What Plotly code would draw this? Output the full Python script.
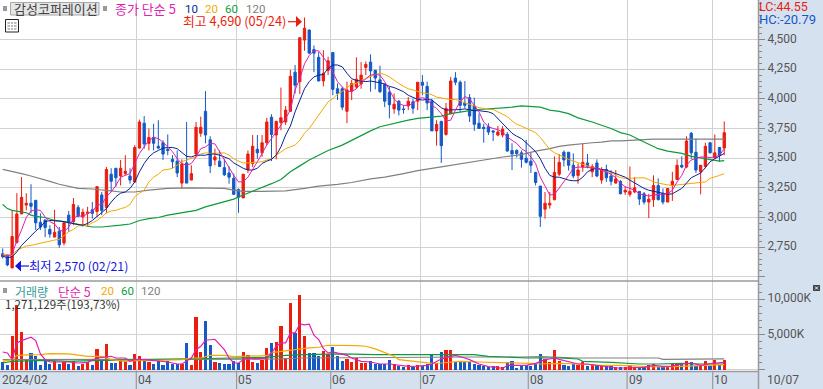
import plotly.graph_objects as go

up_flags = ("bbrrrrbbbb" "brbrbrbrrb" "rbrbbrrbrr" "brbbbbbbrb" "rrrbbrbbbb" "brrrbrrbrr"
            "rrbrrbbbrr" "bbbrrrrrbb" "bbbrbbrbrb" "bbrbrrbbbb" "bbbbbrrbbb" "bbbbbrrrrb"
            "bbrrbrbrbb" "rbrrrbbrrb" "brrrbrbbrr" "brbr")
high = [2740,2685,3055,3205,3340,3205,3280,3145,3035,2980,2935,3065,2920,2965,3055,3165,3105,3075,3090,3130,
        3260,3215,3425,3415,3415,3485,3525,3415,3610,3825,3855,3750,3790,3820,3650,3700,3525,3565,3490,3805,
        3440,3805,3850,4065,3685,3580,3565,3490,3430,3370,3245,3365,3565,3695,3695,3695,3840,3870,3815,4095,
        3940,4245,4285,4515,4685,4585,4450,4395,4410,4355,4395,4130,4100,4145,4160,4350,4310,4315,4375,4245,
        4280,4130,4100,4045,3990,3945,4015,4000,4140,4200,4145,4000,3820,3815,3965,4185,4225,4155,4150,4040,
        4010,3875,3790,3795,3735,3770,3770,3720,3625,3575,3565,3655,3545,3385,3265,3215,3215,3515,3535,3565,
        3550,3540,3455,3625,3535,3450,3490,3425,3445,3400,3400,3315,3260,3430,3340,3220,3215,3200,3355,3330,
        3245,3245,3385,3490,3515,3685,3720,3665,3440,3630,3635,3700,3595,3810]
body_hi = [2695,2685,2840,3030,3170,3120,3120,3145,2960,2980,2900,2875,2885,2955,3020,3110,3085,3045,3045,3065,
           3260,3190,3405,3365,3415,3415,3390,3350,3590,3805,3795,3675,3675,3600,3630,3575,3490,3475,3450,3460,
           3370,3760,3760,3895,3655,3510,3475,3420,3375,3330,3235,3365,3535,3600,3575,3630,3805,3845,3810,3840,
           3905,4190,4225,4515,4595,4580,4415,4350,4215,4320,4390,4085,4085,4075,4130,4165,4200,4290,4310,4240,
           4160,4120,4055,3955,3980,3915,3980,3975,4140,4140,4105,3980,3785,3810,3920,4150,4175,4140,3965,4010,
           3940,3795,3760,3765,3730,3720,3745,3700,3565,3565,3545,3500,3475,3380,3265,3120,3120,3380,3465,3550,
           3550,3440,3400,3465,3460,3430,3460,3400,3405,3350,3325,3305,3230,3220,3250,3220,3200,3155,3270,3270,
           3205,3245,3305,3440,3440,3645,3710,3550,3440,3600,3630,3545,3590,3715]
body_lo = [2670,2600,2575,2790,3030,3105,3095,2955,2920,2915,2860,2835,2770,2785,2955,2965,3010,3005,3035,3035,
           3050,3060,3085,3305,3335,3350,3370,3315,3300,3585,3620,3625,3625,3585,3535,3565,3470,3375,3290,3290,
           3315,3535,3710,3695,3435,3485,3430,3360,3340,3195,3170,3165,3405,3455,3545,3545,3630,3700,3695,3800,
           3805,3895,4115,4145,4495,4385,4385,4150,4150,4240,4080,4045,3930,3895,4065,4100,4125,4265,4235,4175,
           4060,3980,3950,3915,3905,3910,3940,3920,3980,4115,3965,3730,3730,3605,3700,3875,4140,3945,3945,3855,
           3785,3750,3750,3720,3720,3695,3695,3560,3535,3540,3490,3465,3440,3295,3010,3070,3105,3150,3365,3485,
           3440,3350,3355,3425,3430,3385,3350,3315,3335,3305,3290,3200,3215,3195,3215,3155,3130,3130,3150,3150,
           3130,3130,3270,3320,3425,3425,3545,3400,3385,3430,3545,3505,3525,3585]
low = [2655,2590,2575,2780,3030,3060,3035,2895,2895,2835,2830,2835,2745,2765,2880,2935,3005,2925,2925,2990,
       3005,3020,3035,3215,3260,3270,3355,3285,3290,3580,3580,3565,3565,3575,3485,3525,3415,3340,3245,3290,
       3315,3510,3680,3625,3375,3440,3425,3350,3285,3195,3040,3165,3375,3425,3495,3510,3610,3475,3490,3735,
       3780,3890,4045,4040,4405,4380,4225,4150,4105,4200,4030,3990,3905,3795,3990,4085,4085,4200,4060,4080,
       4050,3930,3835,3875,3860,3875,3905,3875,3905,4030,3905,3730,3605,3460,3690,3870,4115,3890,3920,3805,
       3730,3750,3630,3695,3645,3685,3675,3555,3400,3505,3420,3455,3375,3270,2920,2990,3075,3145,3350,3430,
       3395,3330,3285,3385,3415,3340,3340,3285,3300,3270,3285,3195,3190,3175,3205,3105,3110,2995,3090,3145,
       3110,3130,3140,3315,3415,3415,3495,3375,3195,3415,3540,3495,3470,3525]
volume_k = [1090,660,4790,9190,5360,1420,2370,1940,660,1520,810,1180,850,1090,810,1180,520,810,1090,660,
            2940,1280,3650,950,950,1420,1180,660,2230,1940,1230,1090,810,1280,660,1230,850,810,850,3790,
            660,7490,2510,6920,3510,1090,950,810,810,1280,950,2510,2040,1090,950,1420,3080,3790,3930,6210,
            1660,9480,5210,10620,4790,2370,2370,1940,2650,2230,3220,1940,1230,1520,1090,1660,950,950,1230,810,
            810,810,1370,810,520,380,620,380,620,520,810,2090,950,2510,2800,2800,1090,1090,1090,1090,
            810,660,520,380,470,470,330,1090,1180,240,520,660,520,810,2230,1520,1090,2800,1180,660,
            520,810,660,1090,520,810,660,660,470,470,330,330,330,710,330,330,520,660,850,430,
            430,430,810,900,950,1230,1090,520,520,1230,520,1370,660,1370]

ma5 = [2680,2675,2690,2805,2895,3000,3055,3065,3060,3005,2965,2945,2895,2880,2920,2990,3020,3005,3035,3045,
       3105,3110,3175,3215,3270,3340,3355,3370,3455,3540,3595,3650,3675,3665,3635,3595,3555,3495,3455,3440,
       3455,3510,3580,3595,3625,3620,3555,3485,3415,3355,3300,3300,3340,3400,3470,3540,3610,3665,3720,3770,
       3835,3905,4075,4170,4295,4365,4405,4405,4355,4295,4225,4145,4100,4065,4060,4085,4130,4170,4200,4205,
       4200,4145,4075,4000,3960,3945,3945,3960,4000,4010,4000,3945,3920,3875,3815,3820,3905,3975,4020,4000,
       3945,3890,3805,3765,3750,3740,3720,3680,3650,3625,3580,3555,3510,3455,3340,3260,3190,3195,3245,3300,
       3355,3415,3425,3425,3420,3415,3415,3400,3385,3365,3335,3290,3260,3245,3230,3200,3190,3180,3190,3195,
       3195,3200,3230,3300,3355,3440,3485,3495,3510,3510,3505,3510,3525,3580]
ma10 = [2675,2660,2670,2710,2765,2805,2850,2885,2920,2965,2975,2975,2970,2965,2955,2945,2940,2935,2950,2975,
        3010,3045,3075,3130,3175,3205,3215,3245,3300,3385,3455,3510,3545,3565,3585,3590,3590,3580,3545,3515,
        3510,3525,3525,3525,3535,3535,3525,3510,3495,3460,3435,3415,3400,3400,3415,3455,3475,3490,3525,3595,
        3695,3770,3890,3990,4085,4145,4185,4200,4205,4255,4285,4285,4270,4215,4170,4155,4150,4145,4150,4145,
        4135,4125,4105,4095,4080,4060,4030,4010,3995,3990,3995,3990,3960,3925,3905,3905,3905,3910,3915,3905,
        3900,3900,3895,3890,3875,3835,3790,3750,3710,3685,3665,3630,3590,3555,3495,3415,3355,3340,3340,3325,
        3315,3310,3310,3340,3385,3405,3415,3405,3400,3385,3370,3355,3340,3315,3290,3265,3245,3230,3220,3215,
        3200,3195,3200,3220,3245,3290,3335,3355,3375,3420,3470,3495,3520,3540]
ma20 = [2690,2685,2680,2725,2745,2760,2765,2775,2785,2795,2805,2810,2815,2850,2880,2900,2930,2930,2935,2955,
        2975,3005,3040,3055,3060,3075,3085,3110,3175,3205,3230,3300,3340,3365,3400,3405,3415,3440,3470,3485,
        3495,3510,3535,3545,3540,3540,3545,3545,3525,3495,3475,3460,3460,3465,3465,3470,3485,3495,3525,3555,
        3580,3595,3610,3650,3710,3750,3805,3860,3920,3975,4000,4040,4060,4095,4125,4130,4155,4170,4190,4205,
        4215,4205,4185,4155,4130,4105,4085,4075,4060,4050,4045,4035,4015,4005,4000,3995,3995,3985,3965,3955,
        3940,3925,3920,3910,3910,3890,3865,3850,3815,3785,3770,3750,3735,3715,3675,3625,3575,3545,3530,3510,
        3490,3475,3465,3450,3435,3425,3415,3400,3390,3380,3355,3335,3330,3330,3335,3335,3335,3320,3300,3290,
        3280,3275,3270,3275,3280,3285,3290,3295,3295,3300,3330,3340,3355,3370]
ma60_idx = [0,1,2,3,4,5,6,7,9,11,13,15,17,19,21,23,25,27,29,31,33,35,37,39,41,43,45,47,49,51,53,55,57,59,
            61,63,65,67,69,72,74,76,78,80,82,84,86,88,91,93,95,97,99,101,103,105,108,110,112,114,116,
            118,120,122,125,127,129,131,133,135,137,139,141,144,146,148,150,152,153]
ma60 = [3110,3075,3060,3055,3045,3040,3020,3010,3000,2975,2965,2950,2935,2920,2920,2925,2935,2945,2975,2990,
        3000,3020,3035,3045,3060,3090,3110,3130,3155,3190,3220,3250,3285,3320,3385,3435,3485,3525,3565,3610,
        3650,3695,3730,3765,3785,3800,3820,3835,3850,3855,3875,3890,3900,3910,3915,3925,3930,3940,3935,3930,
        3905,3895,3875,3840,3805,3780,3750,3715,3695,3655,3620,3580,3560,3540,3515,3500,3485,3475,3480]
ma120_idx = [0,2,4,6,8,10,12,14,16,19,21,23,25,28,31,35,40,44,47,49,51,55,59,60,64,67,71,74,78,81,85,88,92,
             96,99,103,106,110,113,116,118,120,122,125,127,129,131,133,135,138,142,146,153]
ma120 = [3405,3390,3370,3350,3330,3305,3280,3260,3245,3240,3235,3225,3215,3215,3230,3245,3250,3250,3245,3230,
         3220,3220,3220,3225,3245,3265,3280,3295,3325,3340,3370,3395,3420,3445,3470,3490,3510,3530,3560,3580,
         3600,3610,3620,3630,3635,3645,3645,3650,3655,3660,3660,3660,3660]

vma5_idx = [0,1,2,3,4,5,6,7,8,9,10,12,14,16,18,20,21,22,23,24,26,27,28,30,33,35,37,38,40,41,42,43,45,46,47,
            48,49,50,51,52,54,56,57,58,59,60,61,62,63,64,65,66,67,68,69,70,71,73,74,75,76,78,80,82,84,86,
            88,90,91,93,94,96,98,99,101,103,105,106,107,109,111,113,115,116,117,118,120,122,124,126,128,130,
            132,134,136,138,140,142,144,146,148,150,153]
vma5 = [2510,2370,1420,3790,4120,4410,4600,4120,2230,1420,1090,1090,1090,950,1040,1660,1750,1900,1900,1660,
        1660,1190,1420,1420,1280,1090,810,810,1660,2840,3320,4170,4310,3560,2840,1660,950,950,1420,1660,1520,
        1660,2370,3320,3790,3790,5210,5210,6490,6350,6450,4880,4270,2990,2370,2510,2320,2040,1660,1420,1190,
        1090,810,810,620,470,520,620,810,1520,1750,2040,1660,1420,810,430,330,140,620,620,620,900,1420,1520,
        1660,1470,1090,810,810,620,470,240,240,330,330,620,470,520,810,950,620,850,1040]
vma20_idx = [0,2,3,5,8,10,14,16,18,21,23,26,28,33,38,40,42,44,47,49,52,54,56,57,60,63,65,67,69,75,77,79,81,83,
             84,87,89,91,93,95,97,101,106,108,112,114,118,122,127,131,135,139,144,148,153]
vma20 = [1190,1420,1990,2090,2130,2280,2230,2040,1900,1900,1420,1190,1280,1330,1420,1660,1660,2040,2040,1850,
         1900,1940,1990,2420,2700,2990,3080,3180,3460,3410,3320,2940,2460,1900,1420,1190,1040,900,950,1090,
         1190,1090,1040,1040,900,810,900,810,620,620,470,380,470,620,710]
vma60_idx = [0,2,9,14,19,23,31,38,42,49,56,60,64,72,79,90,100,103,111,116,118,122,123,129,135,139,144,148,153]
vma60 = [950,1190,1330,1190,1280,1330,1420,1420,1520,1660,1750,2040,2130,2230,2130,2130,2130,1900,1660,1660,
         1660,1520,1190,1040,810,810,900,810,810]
vma120_idx = [0,14,28,39,50,59,64,78,90,99,110,114,122,139,140,153]
vma120 = [1420,1420,1420,1420,1420,1520,1660,1750,1750,1800,1800,1850,1660,1660,1470,1520]

price_ticks = [2500,2750,3000,3250,3500,3750,4000,4250,4500]
price_labels = ["","2,750","3,000","3,250","3,500","3,750","4,000","4,250","4,500"]
vol_ticks = [0,5000,10000]
vol_labels = ["","5,000K","10,000K"]
month_pos = [28.33,49.6,69.55,88.6,111.45,132.4,150.55]
month_labels = ["04","05","06","07","08","09","10"]

RED,BLUE = "#EC1C0E","#1459C6"
MAG,NAVY,ORG,GRN,GRY = "#E01EB0","#0C1F96","#F2A900","#0E9A3C","#808080"
BAND,GRID,AXIS = "#D6E1EF","#D2D2D2","#9A9A9A"
NUM = "Roboto"
KR = "Noto Sans CJK KR"
W,H,PW,PH,SPLIT = 823,389,758,371,281

idx = list(range(len(high)))
opens = [l if f=="r" else h for f,h,l in zip(up_flags,body_hi,body_lo)]
closes = [h if f=="r" else l for f,h,l in zip(up_flags,body_hi,body_lo)]
vcolors = [RED if f=="r" else BLUE for f in up_flags]

fig = go.Figure()
fig.add_trace(go.Candlestick(x=idx,open=opens,high=high,low=low,close=closes,xaxis="x",yaxis="y",
    increasing=dict(line=dict(color=RED,width=1),fillcolor=RED),
    decreasing=dict(line=dict(color=BLUE,width=1),fillcolor=BLUE),whiskerwidth=0,hoverinfo="skip"))
def ln(x,y,c,ax,w=1):
    fig.add_trace(go.Scatter(x=x,y=y,mode="lines",line=dict(color=c,width=w),xaxis=ax[0],yaxis=ax[1],hoverinfo="skip"))
ln(ma120_idx,ma120,GRY,("x","y"),1.2)
ln(ma60_idx,ma60,GRN,("x","y"),1.2)
ln(idx,ma20,ORG,("x","y"))
ln(idx,ma10,NAVY,("x","y"))
ln(idx,ma5,MAG,("x","y"))
fig.add_trace(go.Bar(x=idx,y=volume_k,marker=dict(color=vcolors,line=dict(width=0)),width=0.68,xaxis="x2",yaxis="y2",hoverinfo="skip"))
ln(vma120_idx,vma120,GRY,("x2","y2"),1.2)
ln(vma60_idx,vma60,GRN,("x2","y2"),1.2)
ln(vma20_idx,vma20,ORG,("x2","y2"),1.2)
ln(vma5_idx,vma5,MAG,("x2","y2"),1.2)

XR = [-0.5725,160.16]
xa = dict(range=XR,showticklabels=False,ticks="",tickvals=month_pos,showgrid=True,gridcolor=GRID,gridwidth=1,zeroline=False,showline=False,rangeslider=dict(visible=False),fixedrange=True)

px = lambda x:x/PW
py = lambda y:1-y/PH
shapes,anns = [],[]
def rect(x0,y0,x1,y1,fill,line=None,w=1):
    shapes.append(dict(type="rect",xref="paper",yref="paper",x0=px(x0),x1=px(x1),y0=py(y0),y1=py(y1),fillcolor=fill,line=dict(color=line or fill,width=w if line else 0),layer="above"))
def seg(x0,y0,x1,y1,c,w=1):
    shapes.append(dict(type="line",xref="paper",yref="paper",x0=px(x0),x1=px(x1),y0=py(y0),y1=py(y1),line=dict(color=c,width=w),layer="above"))
def tri(pts,c):
    d="M"+" L".join(f"{px(a)},{py(b)}" for a,b in pts)+" Z"
    shapes.append(dict(type="path",xref="paper",yref="paper",path=d,fillcolor=c,line=dict(color=c,width=0),layer="above"))
def txt(x,y,s,c,size=13,fam=KR):
    anns.append(dict(xref="paper",yref="paper",x=px(x),y=py(y),text=s,showarrow=False,xanchor="left",yanchor="middle",font=dict(color=c,size=size,family=fam),borderpad=0,borderwidth=0))

seg(0,SPLIT,PW,SPLIT,AXIS,1.5)
seg(0,PH+0.5,PW,PH+0.5,AXIS,1.5)
seg(PW+0.5,0,PW+0.5,H,AXIS,1.5)
for m,lab in zip(month_pos,month_labels):
    X=2.7+4.716*m
    seg(X,PH,X,H,AXIS,1.2)
    txt(X+1.5,380,lab,"#555",12,NUM)
txt(2,380,"2024/02","#555",12,NUM)
txt(767,380,"10/07","#555",12,NUM)

rect(10.5,2.5,99,15,"#E6E6E6","#A8A8A8")
rect(3,6,7,11,"#999999")
rect(103,6,107,11,"#999999")
txt(14,8.5,"감성코퍼레이션","#444",13)
txt(115,9,"종가 단순 5",MAG,13)
txt(185,9,"10",NAVY,11.5,NUM)
txt(205,9,"20",ORG,11.5,NUM)
txt(225,9,"60",GRN,11.5,NUM)
txt(246,9,"120",GRY,11.5,NUM)
rect(5.5,19.5,18.5,32,"#FFFFFF","#222222")
rect(7.5,22,16.5,30,"#BDBDBD")
for gx in (10.5,13.5):
    seg(gx,22,gx,30,"#FFFFFF",1)
for gy in (24.5,27.5):
    seg(7.5,gy,16.5,gy,"#FFFFFF",1)
txt(183,21,"최고 4,690 (05/24)",RED,12.8)
seg(288,21.7,297,21.7,RED,1.2)
tri([(296,16),(302,21.7),(296,27)],RED)
txt(28.5,265.5,"최저 2,570 (02/21)","#1515E0",12.3)
seg(20,266,29,266,"#1515E0",1.2)
tri([(15,266),(21,260.5),(21,271.5)],"#1515E0")
txt(759,7,"LC:44.55",RED,12.5,NUM)
txt(759,19,"HC:-20.79",BLUE,13,NUM)
rect(3,288,7,293,"#999999")
txt(15,291,"거래량","#3A9A9A",12)
txt(58,291,"단순 5",MAG,12.5)
txt(101,291,"20",ORG,11.5,NUM)
txt(121,291,"60",GRN,11.5,NUM)
txt(141,291,"120",GRY,11.5,NUM)
txt(5,304,"1,271,129주(193,73%)","#333",11.5)
rect(813,285,820,291,"#444444")
seg(815,286.5,818,289.5,"#FFFFFF",1)
seg(815,289.5,818,286.5,"#FFFFFF",1)

PR0 = 4500+39.5/0.11867
PR1 = 4500-(SPLIT-39.5)/0.11867
VR1 = (369.7-SPLIT)/35.3*5000
VR0 = (369.7-PH)/35.3*5000
tickf = dict(family=NUM,size=12,color="#555")
fig.update_layout(
    width=W,height=H,margin=dict(l=0,r=W-PW,t=0,b=H-PH,pad=0),autosize=False,showlegend=False,
    paper_bgcolor=BAND,plot_bgcolor="#FFFFFF",bargap=0,barmode="overlay",
    xaxis=dict(xa,domain=[0,1],anchor="y"),
    xaxis2=dict(xa,domain=[0,1],anchor="y2",matches="x"),
    yaxis=dict(domain=[(PH-SPLIT)/PH,1],range=[PR1,PR0],side="right",anchor="x",tickvals=price_ticks,ticktext=price_labels,
               tickfont=tickf,ticks="outside",ticklen=6,tickcolor="#888",showgrid=True,gridcolor=GRID,zeroline=False,fixedrange=True,ticklabelshift=-1,
               minor=dict(dtick=50,ticklen=3,ticks="outside",tickcolor="#888",showgrid=False,tick0=0)),
    yaxis2=dict(domain=[0,(PH-SPLIT)/PH],range=[VR0,VR1],side="right",anchor="x2",tickvals=vol_ticks,ticktext=vol_labels,
               tickfont=tickf,ticks="outside",ticklen=6,tickcolor="#888",showgrid=True,gridcolor=GRID,zeroline=False,fixedrange=True,ticklabelshift=-1,
               minor=dict(dtick=1000,ticklen=3,ticks="outside",tickcolor="#888",showgrid=False,tick0=0)),
    shapes=shapes,annotations=anns,
)
fig.write_html("out.html",config=dict(displayModeBar=False),
               post_script="document.body.style.margin='0';document.documentElement.style.overflow='hidden';")
